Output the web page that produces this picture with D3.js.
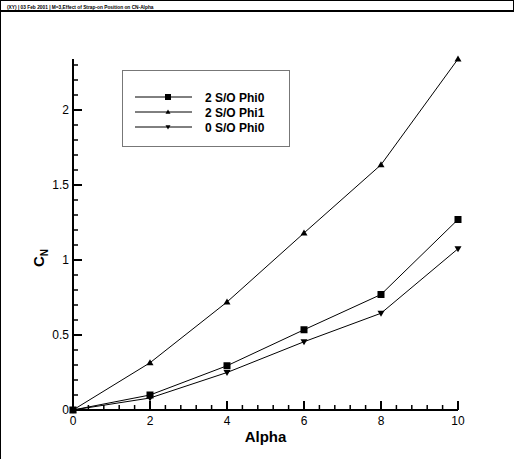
<!DOCTYPE html>
<html>
<head>
<meta charset="utf-8">
<style>
  body { margin: 0; background: #fff; }
  svg { display: block; font-family: Arial, "Liberation Sans", sans-serif; }
</style>
</head>
<body>
<script src="https://d3js.org/d3.v7.min.js"></script>
<script>
  var alpha = [0, 2, 4, 6, 8, 10];
  var phi0 = [0, 0.10, 0.295, 0.535, 0.77, 1.27];
  var phi1 = [0, 0.315, 0.72, 1.18, 1.635, 2.34];
  var noso = [0, 0.08, 0.25, 0.455, 0.645, 1.075];
  var seriesNames = ['2 S/O Phi0', '2 S/O Phi1', '0 S/O Phi0'];
  var seriesMarks = ['square', 'up', 'down'];
  var xTicks = [0, 2, 4, 6, 8, 10];
  var yTicks = [0, 0.5, 1, 1.5, 2];
  var title = '(XY)  |  03 Feb 2001  |  M=3,Effect of Strap-on Position on CN-Alpha';

  var W = 515, H = 459;
  var svg = d3.select('body').append('svg').attr('width', W).attr('height', H);

  // frame + header strip (frame runs past the window bottom/right)
  svg.append('line').attr('x1', 0.5).attr('x2', 0.5).attr('y1', 0).attr('y2', H)
    .attr('stroke', '#000').attr('stroke-width', 1);
  svg.append('line').attr('x1', 0).attr('x2', W - 1).attr('y1', 0.5).attr('y2', 0.5)
    .attr('stroke', '#000').attr('stroke-width', 1);
  svg.append('line').attr('x1', W - 1.5).attr('x2', W - 1.5).attr('y1', 0).attr('y2', 12)
    .attr('stroke', '#000').attr('stroke-width', 1);
  svg.append('line').attr('x1', 0).attr('x2', W - 1).attr('y1', 11).attr('y2', 11)
    .attr('stroke', '#000').attr('stroke-width', 2);
  svg.append('text').attr('x', 7).attr('y', 8.5).attr('font-size', 4.8).attr('font-weight', 'bold')
    .text(title);

  var x = d3.scaleLinear().domain([0, 10]).range([73, 458]);
  var y = d3.scaleLinear().domain([0, 2.34]).range([410, 59]);

  // axes
  var xAxis = svg.append('g').attr('transform', 'translate(0,410)');
  xAxis.append('line').attr('x1', x(0)).attr('x2', x(10)).attr('stroke', '#000').attr('stroke-width', 2);
  xAxis.selectAll('.minor').data(d3.range(0, 10.01, 0.4))
    .join('line').attr('x1', d => x(d)).attr('x2', d => x(d)).attr('y1', 0).attr('y2', -5)
    .attr('stroke', '#000').attr('stroke-width', 1.5);
  xAxis.selectAll('.major').data(xTicks)
    .join('line').attr('x1', d => x(d)).attr('x2', d => x(d)).attr('y1', 0).attr('y2', -9)
    .attr('stroke', '#000').attr('stroke-width', 2);
  xAxis.selectAll('text').data(xTicks)
    .join('text').attr('x', d => x(d)).attr('y', 15).attr('text-anchor', 'middle')
    .attr('font-size', 12).text(d => d);

  var yAxis = svg.append('g').attr('transform', 'translate(73,0)');
  yAxis.append('line').attr('y1', y(0)).attr('y2', y(2.34)).attr('stroke', '#000').attr('stroke-width', 2);
  yAxis.selectAll('.minor').data(d3.range(0, 2.34, 0.1))
    .join('line').attr('y1', d => y(d)).attr('y2', d => y(d)).attr('x1', 0).attr('x2', 5)
    .attr('stroke', '#000').attr('stroke-width', 1.5);
  yAxis.selectAll('.major').data(yTicks)
    .join('line').attr('y1', d => y(d)).attr('y2', d => y(d)).attr('x1', 0).attr('x2', 9)
    .attr('stroke', '#000').attr('stroke-width', 2);
  yAxis.selectAll('text').data(yTicks)
    .join('text').attr('x', -4).attr('y', d => y(d) + 4).attr('text-anchor', 'end')
    .attr('font-size', 12).text(d => d);

  svg.append('text').attr('x', x(5)).attr('y', 442).attr('text-anchor', 'middle')
    .attr('font-size', 15).attr('font-weight', 'bold').text('Alpha');
  var yl = svg.append('text').attr('transform', 'translate(44,258) rotate(-90)')
    .attr('text-anchor', 'middle').attr('font-size', 15).attr('font-weight', 'bold');
  yl.append('tspan').text('C');
  yl.append('tspan').attr('font-size', 10).attr('dy', 4).text('N');

  // markers
  function marker(g, kind, size) {
    if (kind === 'square') {
      g.append('rect').attr('x', -size / 2).attr('y', -size / 2).attr('width', size).attr('height', size);
    } else {
      var s = size / 2;
      var pts = kind === 'up' ? [[0, -s], [s, s * 0.7], [-s, s * 0.7]] : [[0, s], [s, -s * 0.7], [-s, -s * 0.7]];
      g.append('path').attr('d', 'M' + pts.join('L') + 'Z');
    }
  }

  var line = d3.line().x(d => x(d[0])).y(d => y(d[1]));
  var allSeries = [phi0, phi1, noso];
  allSeries.forEach(function(vals, i) {
    var pts = alpha.map((a, j) => [a, vals[j]]);
    svg.append('path').attr('d', line(pts)).attr('fill', 'none').attr('stroke', '#000').attr('stroke-width', 1);
    pts.forEach(function(p) {
      var g = svg.append('g').attr('transform', 'translate(' + x(p[0]) + ',' + y(p[1]) + ')').attr('fill', '#000');
      marker(g, seriesMarks[i], 7);
    });
  });

  // legend
  var leg = svg.append('g');
  leg.append('rect').attr('x', 122.5).attr('y', 70.5).attr('width', 167).attr('height', 76)
    .attr('fill', '#fff').attr('stroke', '#777').attr('stroke-width', 1);
  seriesNames.forEach(function(name, i) {
    var ly = 97 + i * 15;
    leg.append('line').attr('x1', 135).attr('x2', 192).attr('y1', ly).attr('y2', ly)
      .attr('stroke', '#000').attr('stroke-width', 1);
    var g = leg.append('g').attr('transform', 'translate(168,' + ly + ')');
    marker(g, seriesMarks[i], i === 0 ? 6 : 5);
    leg.append('text').attr('x', 205).attr('y', ly + 4.5).attr('font-size', 12).attr('font-weight', 'bold').text(name);
  });
</script>
</body>
</html>
